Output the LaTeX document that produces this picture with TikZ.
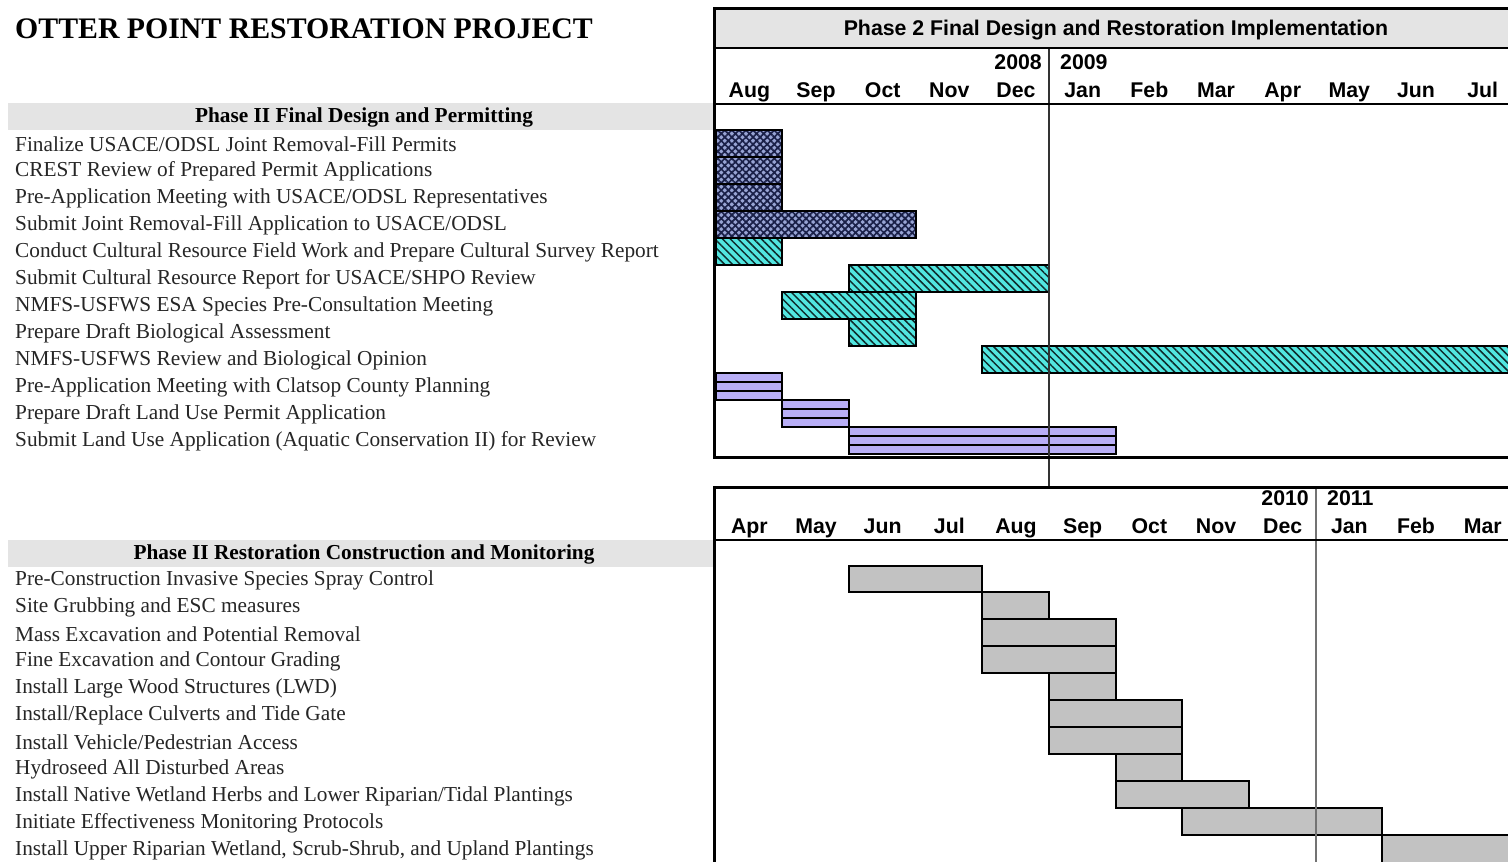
\documentclass[tikz,border=0pt]{standalone}
\usepackage{fontspec}
\setmainfont{Liberation Serif}
\newfontfamily\arialf{Liberation Sans}
\usetikzlibrary{patterns.meta}
\definecolor{navyfill}{HTML}{98A4D4}
\definecolor{navyline}{HTML}{1A2048}
\definecolor{cyanfill}{HTML}{52E6E0}
\definecolor{cyanline}{HTML}{0E2C2C}
\definecolor{lavfill}{HTML}{B8AEF6}
\definecolor{bandgray}{HTML}{E4E4E4}
\definecolor{bargray}{HTML}{C2C2C2}
\tikzset{
  task/.style={anchor=west, inner sep=0pt, font=\fontsize{21.3}{22}\selectfont, text=black!85},
  phasehead/.style={inner sep=0pt, font=\bfseries\fontsize{21.3}{22}\selectfont},
  month/.style={anchor=base, inner sep=0pt, font=\arialf\bfseries\fontsize{21.3}{22}\selectfont},
  bar/.style={draw=black, line width=1.8pt},
  navybar/.style={bar, preaction={fill=navyfill}, pattern={Hatch[angle=45,distance=5pt,line width=1.7pt]}, pattern color=navyline},
  cyanbar/.style={bar, preaction={fill=cyanfill}, pattern={Lines[angle=-45,distance=5.5pt,line width=1.5pt]}, pattern color=cyanline},
  lavbar/.style={bar, fill=lavfill},
  graybar/.style={draw=black, line width=2.4pt, fill=bargray},
  frame/.style={draw=black, line width=3pt},
}
\begin{document}
\begin{tikzpicture}[x=1pt,y=-1pt]
\useasboundingbox (0,0) rectangle (1508,862);
\clip (0,0) rectangle (1508,862);
\fill[white] (0,0) rectangle (1508,862);

% ---------- left column ----------
\node[anchor=base west, inner sep=0pt, font=\bfseries\fontsize{29.8}{30}\selectfont] (title) at (15,38) {OTTER POINT RESTORATION PROJECT};

\fill[bandgray] (8,103) rectangle (714,130);
\node[phasehead] (ph1) at (364,117) {Phase II Final Design and Permitting};
\foreach \t [count=\i from 0] in {
  Finalize USACE/ODSL Joint Removal-Fill Permits,
  CREST Review of Prepared Permit Applications,
  Pre-Application Meeting with USACE/ODSL Representatives,
  Submit Joint Removal-Fill Application to USACE/ODSL,
  Conduct Cultural Resource Field Work and Prepare Cultural Survey Report,
  Submit Cultural Resource Report for USACE/SHPO Review,
  NMFS-USFWS ESA Species Pre-Consultation Meeting,
  Prepare Draft Biological Assessment,
  NMFS-USFWS Review and Biological Opinion,
  Pre-Application Meeting with Clatsop County Planning,
  Prepare Draft Land Use Permit Application,
  {Submit Land Use Application (Aquatic Conservation II) for Review}}
  \node[task] (a\i) at (15,{144+27*\i}) {\t};

\fill[bandgray] (8,540) rectangle (714,567);
\node[phasehead] (ph2) at (364,554) {Phase II Restoration Construction and Monitoring};
\foreach \t [count=\i from 0] in {
  Pre-Construction Invasive Species Spray Control,
  Site Grubbing and ESC measures,
  Mass Excavation and Potential Removal,
  Fine Excavation and Contour Grading,
  Install Large Wood Structures (LWD),
  Install/Replace Culverts and Tide Gate,
  Install Vehicle/Pedestrian Access,
  Hydroseed All Disturbed Areas,
  Install Native Wetland Herbs and Lower Riparian/Tidal Plantings,
  Initiate Effectiveness Monitoring Protocols,
  {Install Upper Riparian Wetland, Scrub-Shrub, and Upland Plantings}}
  \node[task] (b\i) at (15,{580+27*\i}) {\t};

% ---------- top chart ----------
\fill[bandgray] (714,8) rectangle (1520,48);
\node[inner sep=0pt, font=\arialf\bfseries\fontsize{21.3}{22}\selectfont] (ctitle) at (1116,30) {Phase 2 Final Design and Restoration Implementation};
\foreach \m [count=\i from 0] in {Aug,Sep,Oct,Nov,Dec,Jan,Feb,Mar,Apr,May,Jun,Jul}
  \node[month] (m\i) at ({716+66.67*(\i+0.5)},97) {\m};
\node[month, anchor=base east] (y2008) at (1042,69) {2008};
\node[month, anchor=base west] (y2009) at (1060,69) {2009};

% bars (rows start at y=130, height 27, month width 66.67)
\path[navybar] (716,130) rectangle (782,157);
\path[navybar] (716,157) rectangle (782,184);
\path[navybar] (716,184) rectangle (782,211);
\path[navybar] (716,211) rectangle (916,238);
\path[cyanbar] (716,238) rectangle (782,265);
\path[cyanbar] (849,265) rectangle (1049,292);
\path[cyanbar] (782,292) rectangle (916,319);
\path[cyanbar] (849,319) rectangle (916,346);
\path[cyanbar] (982,346) rectangle (1530,373);
\foreach \xa/\xb/\r in {716/782/9, 782/849/10, 849/1116/11}{
  \path[lavbar] (\xa,{130+27*\r}) rectangle (\xb,{157+27*\r});
  \draw[line width=1.6pt] (\xa,{139+27*\r}) -- (\xb,{139+27*\r});
  \draw[line width=1.6pt] (\xa,{148+27*\r}) -- (\xb,{148+27*\r});
}

\draw[black!80, line width=1.3pt] (1049,48) -- (1049,486);
\draw[frame] (1520,8) -- (714,8) -- (714,457) -- (1520,457);
\draw[line width=2.5pt] (714,48) -- (1520,48);
\draw[line width=2.2pt] (714,104) -- (1520,104);

% ---------- bottom chart ----------
\foreach \m [count=\i from 0] in {Apr,May,Jun,Jul,Aug,Sep,Oct,Nov,Dec,Jan,Feb,Mar}
  \node[month] (n\i) at ({716+66.67*(\i+0.5)},533) {\m};
\node[month, anchor=base east] (y2010) at (1309,505) {2010};
\node[month, anchor=base west] (y2011) at (1327,505) {2011};

\path[graybar] (849,566) rectangle (982,592);
\path[graybar] (982,592) rectangle (1049,619);
\path[graybar] (982,619) rectangle (1116,646);
\path[graybar] (982,646) rectangle (1116,673);
\path[graybar] (1049,673) rectangle (1116,700);
\path[graybar] (1049,700) rectangle (1182,727);
\path[graybar] (1049,727) rectangle (1182,754);
\path[graybar] (1116,754) rectangle (1182,781);
\path[graybar] (1116,781) rectangle (1249,808);
\path[graybar] (1182,808) rectangle (1382,835);
\path[graybar] (1382,835) rectangle (1530,875);

\draw[black!55, line width=1.3pt] (1316,488) -- (1316,870);
\draw[frame] (714,870) -- (714,487) -- (1520,487);
\draw[line width=2pt] (714,540) -- (1520,540);
\end{tikzpicture}
\end{document}
